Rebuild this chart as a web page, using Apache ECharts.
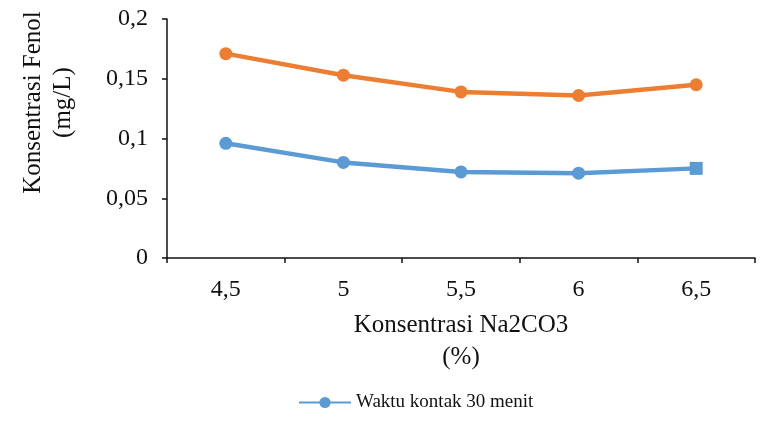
<!DOCTYPE html>
<html><head><meta charset="utf-8">
<script src="https://cdn.jsdelivr.net/npm/echarts@6/dist/echarts.min.js"></script>
<style>html,body{margin:0;padding:0;background:#fff}#c{width:762px;height:438px}</style>
</head><body><div id="c"></div>
<script>
const categories = ['4,5', '5', '5,5', '6', '6,5'];
const series30 = [0.096, 0.080, 0.072, 0.071, 0.075];
const series60 = [0.171, 0.153, 0.139, 0.136, 0.145];
const yTicks = [0, 0.05, 0.1, 0.15, 0.2];
const seriesNames = ['Waktu kontak 30 menit', 'Waktu kontak 60 menit'];

const font = 'Liberation Serif';
const chart = echarts.init(document.getElementById('c'), null, {renderer: 'canvas'});
chart.setOption({
  animation: false,
  backgroundColor: '#fff',
  grid: {left: 167, right: 7, top: 19, bottom: 180, containLabel: false},
  legend: {
    data: [seriesNames[0]],
    left: 293, top: 388,
    itemWidth: 52, itemHeight: 14, itemGap: 10,
    textStyle: {fontFamily: font, fontSize: 19, color: '#111'}
  },
  xAxis: {
    type: 'category', data: categories, boundaryGap: true,
    name: 'Konsentrasi Na2CO3\n(%)', nameLocation: 'middle', nameGap: 51,
    nameTextStyle: {fontFamily: font, fontSize: 25, color: '#111', lineHeight: 32},
    axisLine: {lineStyle: {color: '#111', width: 1.5}},
    axisTick: {show: true, inside: false, length: 5, lineStyle: {color: '#111', width: 1.5}},
    axisLabel: {fontFamily: font, fontSize: 24, color: '#111', margin: 20},
    splitLine: {show: false}
  },
  yAxis: {
    type: 'value', min: yTicks[0], max: yTicks[yTicks.length - 1], interval: 0.05,
    name: 'Konsentrasi Fenol\n(mg/L)', nameLocation: 'middle', nameGap: 89,
    nameTextStyle: {fontFamily: font, fontSize: 25, color: '#111', lineHeight: 30, padding: [0, 0, 0, 72]},
    axisLine: {show: true, lineStyle: {color: '#111', width: 1.5}},
    axisTick: {show: true, length: 5, lineStyle: {color: '#111', width: 1.5}},
    axisLabel: {fontFamily: font, fontSize: 24, color: '#111', margin: 19,
      formatter: v => String(+v.toFixed(2)).replace('.', ',')},
    splitLine: {show: false}
  },
  series: [
    {
      name: seriesNames[0], type: 'line',
      data: series30.map((v, i) => i === series30.length - 1 ? {value: v, symbol: 'rect'} : v),
      symbol: 'circle', symbolSize: 13,
      lineStyle: {color: '#5B9BD5', width: 4.5},
      itemStyle: {color: '#5B9BD5'}
    },
    {
      name: seriesNames[1], type: 'line', data: series60,
      symbol: 'circle', symbolSize: 13,
      lineStyle: {color: '#ED7D31', width: 4.5},
      itemStyle: {color: '#ED7D31'}
    }
  ]
});
</script></body></html>
